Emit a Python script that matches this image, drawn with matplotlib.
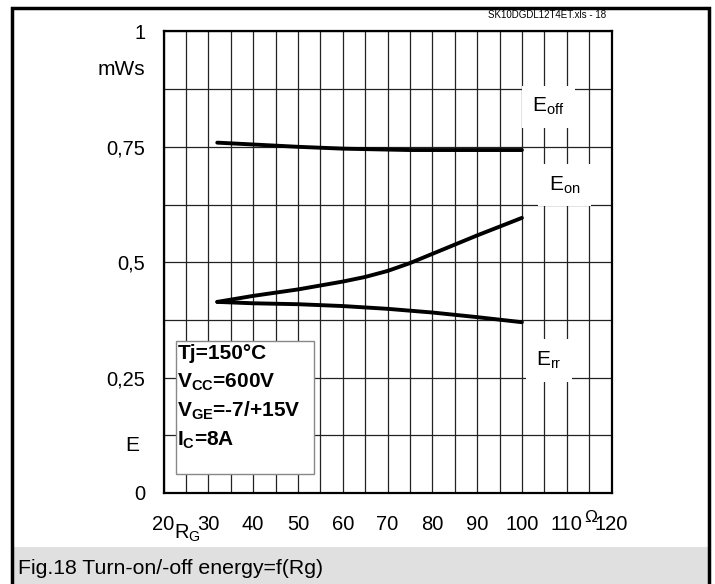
import numpy as np
import matplotlib
matplotlib.use("Agg")
import matplotlib.pyplot as plt
from matplotlib.patches import Rectangle

plt.rcParams['font.family'] = ['Liberation Sans', 'DejaVu Sans']
plt.rcParams['mathtext.fontset'] = 'custom'
plt.rcParams['mathtext.rm'] = 'Liberation Sans'
plt.rcParams['mathtext.bf'] = 'Liberation Sans:bold'
plt.rcParams['mathtext.it'] = 'Liberation Sans:italic'

# gate resistance in Ohm
rg = [32, 40, 50, 60, 65, 70, 75, 80, 90, 100]
# energies in mWs
e_off = [0.759, 0.755, 0.750, 0.746, 0.745, 0.744, 0.743, 0.743, 0.743, 0.743]
e_on = [0.414, 0.427, 0.441, 0.458, 0.468, 0.481, 0.498, 0.518, 0.558, 0.596]
e_rr = [0.414, 0.411, 0.409, 0.405, 0.402, 0.399, 0.395, 0.391, 0.381, 0.370]

x_ticks = [20, 30, 40, 50, 60, 70, 80, 90, 100, 110, 120]
y_ticks = [0, 0.25, 0.5, 0.75, 1]
y_labels = ['0', '0,25', '0,5', '0,75', '1']

conditions = ['Tj=150°C', r'V$_\mathbf{CC}$=600V', r'V$_\mathbf{GE}$=-7/+15V', r'I$_\mathbf{C}$=8A']


def main():
	fig = plt.figure(figsize=(7.15, 5.84), dpi=100)

	# outer frame and caption band
	fig.patches.append(Rectangle((13/715, 0), 695/715, 37/584, transform=fig.transFigure,
		facecolor='#e0e0e0', edgecolor='none', zorder=0))
	fig.patches.append(Rectangle((12/715, -0.02), 697/715, (576/584) + 0.02, transform=fig.transFigure,
		facecolor='none', edgecolor='black', lw=2.5, zorder=1))
	fig.text(18/715, 1 - 568/584, 'Fig.18 Turn-on/-off energy=f(Rg)', fontsize=15.3, va='center', ha='left')
	fig.text(606/715, 1 - 15/584, 'SK10DGDL12T4ET.xls - 18', fontsize=7, va='center', ha='right')

	ax = fig.add_axes([163.5/715, 91/584, 448/715, 461.6/584])
	ax.set_xlim(20, 120)
	ax.set_ylim(0, 1)

	ax.set_xticks(x_ticks)
	ax.set_xticklabels([str(v) for v in x_ticks])
	ax.set_yticks(y_ticks)
	ax.set_yticklabels(y_labels)
	ax.set_xticks(np.arange(20, 121, 5), minor=True)
	ax.set_yticks(np.arange(0, 1.01, 0.125), minor=True)
	ax.grid(which='both', color='#222222', lw=0.9)
	ax.tick_params(which='both', length=0, labelsize=14.5)
	ax.tick_params(axis='x', pad=16)
	ax.tick_params(axis='y', pad=13)
	for s in ax.spines.values():
		s.set_linewidth(1.6)

	ax.plot(rg, e_off, color='black', lw=2.8, solid_capstyle='round', solid_joinstyle='round', zorder=4)
	ax.plot(rg, e_on, color='black', lw=2.8, solid_capstyle='round', solid_joinstyle='round', zorder=4)
	ax.plot(rg, e_rr, color='black', lw=2.8, solid_capstyle='round', solid_joinstyle='round', zorder=4)

	box = dict(boxstyle='square,pad=0.5', facecolor='white', edgecolor='none')
	ax.text(105.9, 0.837, r'E$_\mathregular{off}$', fontsize=15, ha='center', va='center', bbox=box, zorder=5)
	ax.text(109.5, 0.667, r'E$_\mathregular{on}$', fontsize=15, ha='center', va='center', bbox=box, zorder=5)
	ax.text(106.1, 0.287, r'E$_\mathregular{rr}$', fontsize=15, ha='center', va='center', bbox=box, zorder=5)

	# units and axis names
	ax.text(-0.04, 0.917, 'mWs', fontsize=15, ha='right', va='center', transform=ax.transAxes)
	ax.text(-0.055, 0.102, 'E', fontsize=15, ha='right', va='center', transform=ax.transAxes)
	ax.text(25.4, -0.087, r'R$_\mathregular{G}$', fontsize=14.5, ha='center', va='center',
		transform=ax.get_xaxis_transform(), clip_on=False)
	ax.text(115.3, -0.052, 'Ω', fontsize=12.5, ha='center', va='center',
		transform=ax.get_xaxis_transform(), clip_on=False)

	# test conditions
	ax.add_patch(Rectangle((22.7, 0.041), 30.9, 0.289, facecolor='white', edgecolor='#888888', lw=1.0, zorder=5))
	ys = [0.302, 0.239, 0.178, 0.113]
	for t, yy in zip(conditions, ys):
		ax.text(23.1, yy, t, fontsize=15, fontweight='bold', ha='left', va='center', zorder=6)

	fig.savefig('out.png', dpi=100)


main()
